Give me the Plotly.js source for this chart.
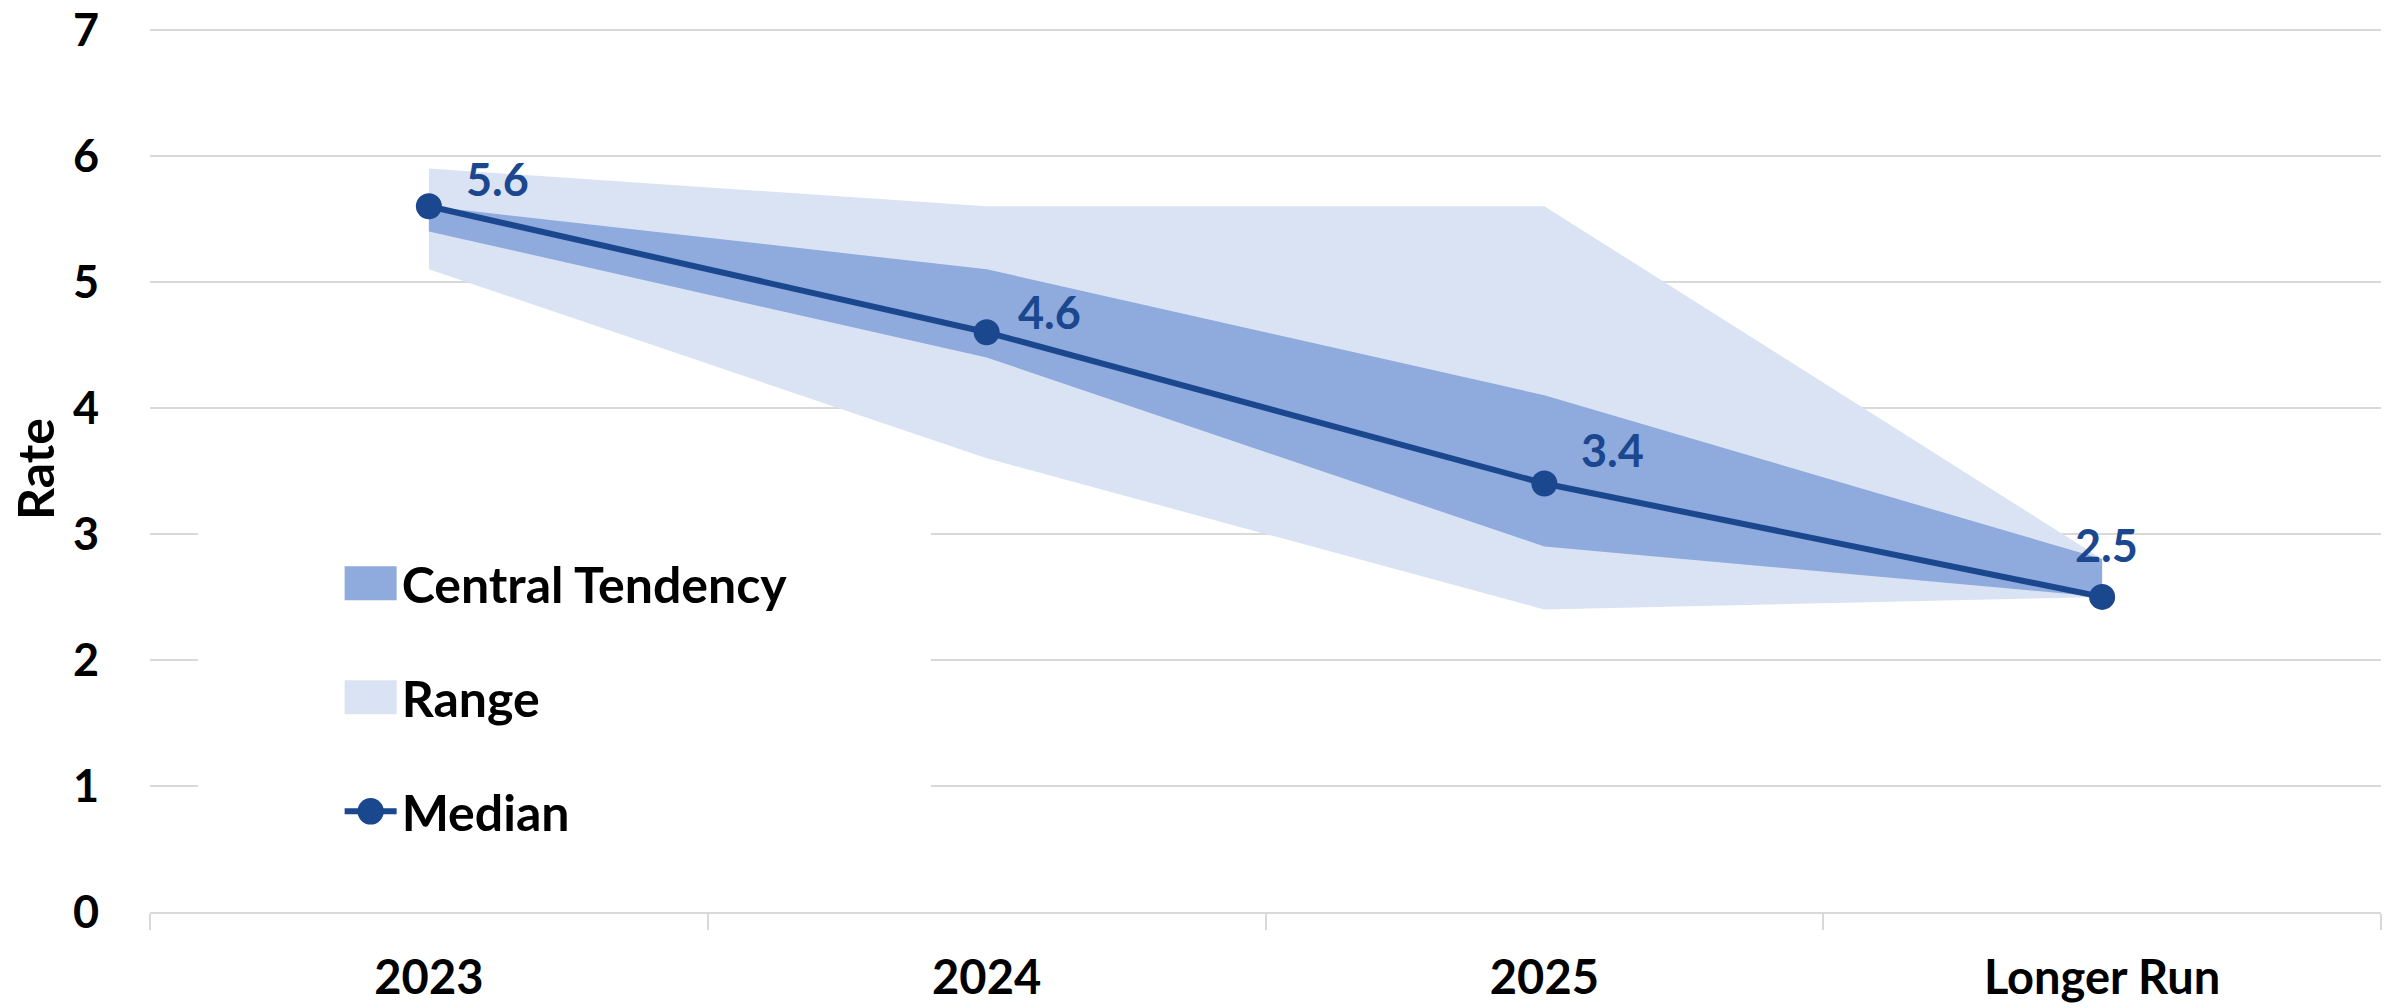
<!DOCTYPE html>
<html><head><meta charset="utf-8">
<script src="https://cdn.plot.ly/plotly-3.0.1.min.js"></script>
<style>html,body{margin:0;padding:0;background:#fff;} #chart{width:2392px;height:1008px;}</style>
</head><body><div id="chart"></div>
<script>
// ---- data ----
const categories = ['2023', '2024', '2025', 'Longer Run'];
const median = [5.6, 4.6, 3.4, 2.5];
const centralLow = [5.4, 4.4, 2.9, 2.5];
const centralHigh = [5.6, 5.1, 4.1, 2.8];
const rangeLow = [5.1, 3.6, 2.4, 2.5];
const rangeHigh = [5.9, 5.6, 5.6, 2.8];
const yTickValues = [0, 1, 2, 3, 4, 5, 6, 7];

// ---- style ----
const FONT = 'Lato, "Open Sans", sans-serif';
const DARK = '#1b478f';
const CT_COLOR = '#8faadc';
const RANGE_COLOR = '#dae3f3';
const GRID = '#d9d9d9';
const labelShift = [[35, 27], [29, 20], [35, 33], [4, 52]];

function band(low, high) {
  return {
    x: categories.concat(categories.slice().reverse()),
    y: high.concat(low.slice().reverse())
  };
}

const rangeBand = band(rangeLow, rangeHigh);
const ctBand = band(centralLow, centralHigh);

const traces = [
  {
    type: 'scatter', name: 'Range', x: rangeBand.x, y: rangeBand.y,
    mode: 'none', fill: 'toself', fillcolor: RANGE_COLOR,
    legendrank: 2, legendgroup: 'g2', hoverinfo: 'skip'
  },
  {
    type: 'scatter', name: 'Central Tendency', x: ctBand.x, y: ctBand.y,
    mode: 'none', fill: 'toself', fillcolor: CT_COLOR,
    legendrank: 1, legendgroup: 'g1', hoverinfo: 'skip'
  },
  {
    type: 'scatter', name: 'Median', x: categories, y: median,
    mode: 'lines+markers', line: {color: DARK, width: 6},
    marker: {color: DARK, size: 26},
    legendrank: 3, legendgroup: 'g3'
  }
];

const annotations = median.map((v, i) => ({
  x: i, y: v, xref: 'x', yref: 'y',
  text: v.toFixed(1), showarrow: false,
  xanchor: i === categories.length - 1 ? 'center' : 'left', yanchor: 'middle',
  xshift: labelShift[i][0], yshift: labelShift[i][1],
  font: {family: FONT, size: 45, color: DARK, weight: 700}
}));

const layout = {
  width: 2392, height: 1008,
  paper_bgcolor: '#ffffff', plot_bgcolor: '#ffffff',
  margin: {l: 150, r: 11, t: 26, b: 96, pad: 0},
  font: {family: FONT, size: 44, color: '#000000', weight: 700},
  showlegend: true,
  legend: {
    x: 0.085, xanchor: 'left', y: 0.415, yanchor: 'top',
    bgcolor: 'rgba(0,0,0,0)', borderwidth: 0,
    traceorder: 'grouped', tracegroupgap: 46, itemwidth: 52,
    font: {family: FONT, size: 50, color: '#000000', weight: 700}
  },
  xaxis: {
    type: 'category', range: [-0.5, 3.5], fixedrange: true,
    tickson: 'boundaries', ticks: 'outside', ticklen: 16, tickwidth: 2, tickcolor: GRID,
    showline: true, linecolor: GRID, linewidth: 2, showgrid: false, zeroline: false,
    tickfont: {family: FONT, size: 47, color: '#000000', weight: 700},
    ticklabelstandoff: 24
  },
  yaxis: {
    range: [0, 7.03], tickmode: 'array', tickvals: yTickValues, fixedrange: true,
    showgrid: true, gridcolor: GRID, gridwidth: 2,
    showline: false, zeroline: false, ticks: '',
    ticklabelstandoff: 50, ticklabeloverflow: 'allow',
    tickfont: {family: FONT, size: 45, color: '#000000', weight: 700},
    title: {text: 'Rate', standoff: 2, font: {family: FONT, size: 50, color: '#000000', weight: 700}}
  },
  shapes: [{
    type: 'rect', xref: 'x', yref: 'y', layer: 'between',
    x0: -0.414, x1: 0.9, y0: 0.45, y1: 3.15,
    fillcolor: '#ffffff', line: {width: 0}
  }],
  annotations: annotations
};

Plotly.newPlot('chart', traces, layout, {staticPlot: true, displayModeBar: false}).then(gd => {
  gd.querySelectorAll('.legend .legendfill path').forEach(p => {
    p.setAttribute('d', 'M5,-17h52v34h-52z');
  });
  gd.querySelectorAll('.legend .legendpoints path.scatterpts').forEach(p => {
    const t = p.getAttribute('transform') || '';
    p.setAttribute('transform', t + ' scale(1.65)');
  });
});
</script>
</body></html>
